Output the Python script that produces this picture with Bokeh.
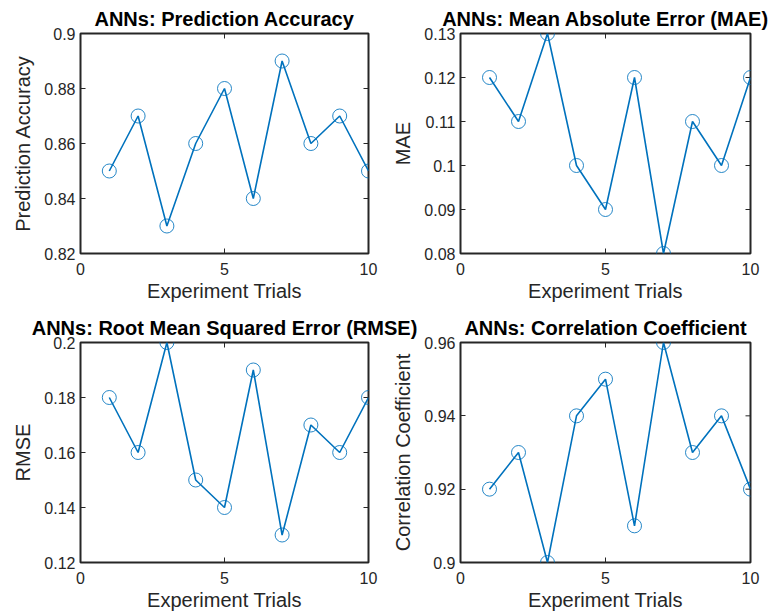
import math
from bokeh.plotting import figure
from bokeh.layouts import column, row
from bokeh.models import Range1d, FixedTicker, CustomJSTickFormatter, Title, CustomJS
from bokeh.io import curdoc
from bokeh.embed import file_html
from bokeh.resources import INLINE

trials = [1, 2, 3, 4, 5, 6, 7, 8, 9, 10]
accuracy = [0.85, 0.87, 0.83, 0.86, 0.88, 0.84, 0.89, 0.86, 0.87, 0.85]
mae = [0.12, 0.11, 0.13, 0.10, 0.09, 0.12, 0.08, 0.11, 0.10, 0.12]
rmse = [0.18, 0.16, 0.20, 0.15, 0.14, 0.19, 0.13, 0.17, 0.16, 0.18]
corr = [0.92, 0.93, 0.90, 0.94, 0.95, 0.91, 0.96, 0.93, 0.94, 0.92]

titles = ["ANNs: Prediction Accuracy", "ANNs: Mean Absolute Error (MAE)",
          "ANNs: Root Mean Squared Error (RMSE)", "ANNs: Correlation Coefficient"]
ylabels = ["Prediction Accuracy", "MAE", "RMSE", "Correlation Coefficient"]
yranges = [(0.82, 0.90), (0.08, 0.13), (0.12, 0.20), (0.90, 0.96)]
yticks = [[0.82, 0.84, 0.86, 0.88, 0.90],
          [0.08, 0.09, 0.10, 0.11, 0.12, 0.13],
          [0.12, 0.14, 0.16, 0.18, 0.20],
          [0.90, 0.92, 0.94, 0.96]]
xlim = (0, 10)
xticks = [0, 5, 10]
series = [accuracy, mae, rmse, corr]

BLUE = "#0072BD"
AX = "#262626"
FONT = "Liberation Sans"

fmt = CustomJSTickFormatter(code="return parseFloat(tick.toFixed(4)).toString();")


def make(i, width, height, left, right, top, bottom):
    ylo, yhi = yranges[i]
    p = figure(width=width, height=height, output_backend="svg", toolbar_location=None,
               x_range=Range1d(*xlim), y_range=Range1d(ylo, yhi),
               min_border_left=left, min_border_right=right,
               min_border_top=top, min_border_bottom=bottom)
    p.title = Title(text=titles[i], align="center", text_font=FONT,
                    text_font_size="20px", text_font_style="bold",
                    text_color="black", offset=0, standoff=7)
    p.grid.visible = False
    p.outline_line_color = AX
    p.outline_line_width = 2
    p.background_fill_color = "white"
    p.border_fill_color = None
    for ax in (p.xaxis[0], p.yaxis[0]):
        ax.axis_line_color = None
        ax.major_tick_in = 5
        ax.major_tick_out = 0
        ax.minor_tick_line_color = None
        ax.major_tick_line_color = AX
        ax.major_label_text_font = FONT
        ax.major_label_text_font_size = "16px"
        ax.major_label_text_color = AX
        ax.axis_label_text_font = FONT
        ax.axis_label_text_font_size = "20px"
        ax.axis_label_text_font_style = "normal"
        ax.axis_label_text_color = AX
        ax.formatter = fmt
    p.xaxis[0].major_label_standoff = 9
    p.yaxis[0].major_label_standoff = 5
    p.xaxis[0].ticker = FixedTicker(ticks=xticks)
    p.yaxis[0].ticker = FixedTicker(ticks=yticks[i])
    p.xaxis[0].axis_label = "Experiment Trials"
    p.yaxis[0].axis_label = ylabels[i]
    p.xaxis[0].axis_label_standoff = 2
    p.yaxis[0].axis_label_standoff = 7
    # mirrored inward ticks on top and right edges
    p.ray(x=xticks, y=[yhi] * len(xticks), length=5, length_units="screen",
          angle=-math.pi / 2, line_color=AX, line_width=1)
    p.ray(x=[xlim[1]] * len(yticks[i]), y=yticks[i], length=5, length_units="screen",
          angle=math.pi, line_color=AX, line_width=1)
    p.line(trials, series[i], line_color=BLUE, line_width=1.6)
    p.scatter(trials, series[i], marker="circle", size=14, fill_color=None,
              line_color=BLUE, line_width=1, line_alpha=0.85)
    return p


p1 = make(0, 380, 309, 80, 12, 33, 56)
p2 = make(1, 389, 309, 80, 19, 33, 56)
p3 = make(2, 380, 307, 80, 12, 33, 54)
p4 = make(3, 389, 307, 80, 19, 33, 54)

layout = column(row(p1, p2), row(p3, p4))

# let long titles spill past their own canvas (like MATLAB subplot titles)
unclip = CustomJS(code="""
function walk(root) {
  const els = root.querySelectorAll('*');
  for (const el of els) {
    if (el.shadowRoot) walk(el.shadowRoot);
    const tag = el.tagName.toLowerCase();
    if (tag === 'svg' || tag === 'div') el.style.overflow = 'visible';
  }
}
function go() { walk(document); }
go();
setTimeout(go, 30); setTimeout(go, 200); setTimeout(go, 800);
""")
doc = curdoc()
doc.add_root(layout)
doc.js_on_event("document_ready", unclip)

open("out.html", "w").write(file_html(layout, INLINE))
